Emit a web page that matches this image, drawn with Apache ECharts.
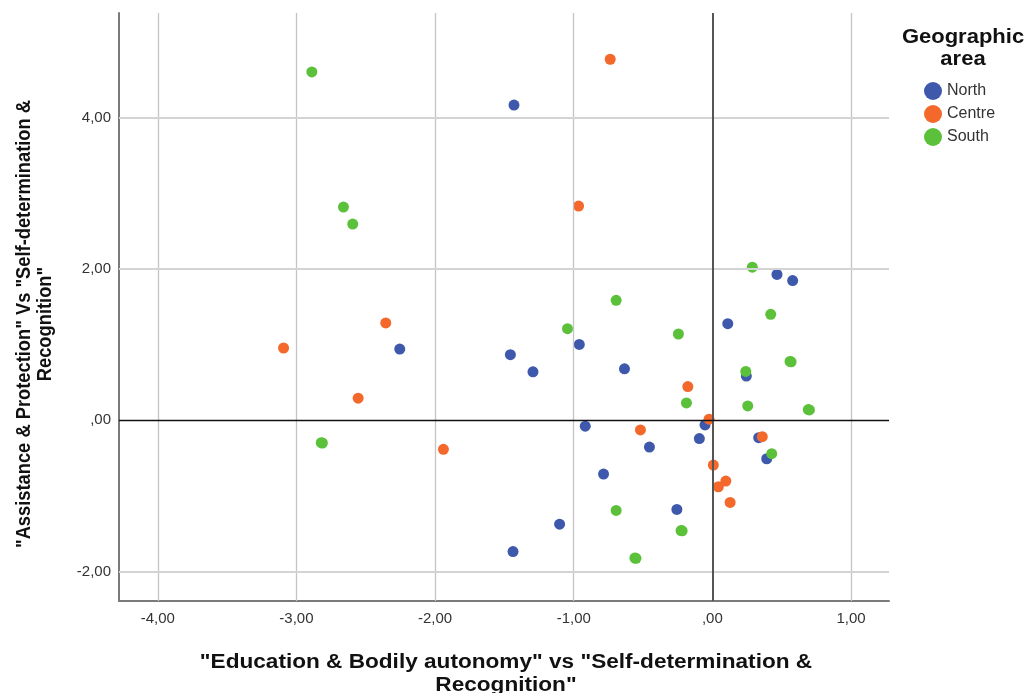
<!DOCTYPE html>
<html>
<head>
<meta charset="utf-8">
<script src="https://cdn.jsdelivr.net/npm/echarts@6/dist/echarts.min.js"></script>
<style>
html,body{margin:0;padding:0;background:#fff;}
#c{width:1027px;height:693px;}
</style>
</head>
<body>
<div id="c"></div>
<script>
// ---- data ----
const seriesNames = ['North', 'Centre', 'South'];
const north = [
  [-1.431, 4.163], [0.466, 1.925], [0.579, 1.845], [0.111, 1.275],
  [-2.255, 0.940], [-1.457, 0.865], [-0.960, 1.001], [-1.294, 0.640],
  [-0.634, 0.679], [0.245, 0.583], [-0.053, -0.062], [-0.917, -0.079],
  [-0.094, -0.243], [0.334, -0.230], [-0.454, -0.354], [0.392, -0.509],
  [-0.785, -0.711], [-0.256, -1.179], [-1.102, -1.373], [-1.438, -1.735]
];
const centre = [
  [-0.737, 4.768], [-0.965, 2.829], [-2.356, 1.285], [-3.093, 0.954],
  [-2.555, 0.291], [-1.940, -0.384], [-0.177, 0.445], [-0.024, 0.013],
  [-0.519, -0.128], [0.360, -0.217], [0.007, -0.592], [0.097, -0.804],
  [0.043, -0.879], [0.128, -1.086]
];
const south = [
  [-2.889, 4.600], [-2.661, 2.816], [-2.594, 2.591], [0.288, 2.021],
  [-0.694, 1.584], [0.421, 1.399], [-1.045, 1.209], [-0.245, 1.139],
  [0.560, 0.776], [0.568, 0.772], [0.241, 0.644], [-0.187, 0.229],
  [0.255, 0.189], [0.692, 0.140], [0.700, 0.136], [-2.821, -0.297],
  [-2.813, -0.301], [0.428, -0.442], [-0.694, -1.192], [-0.226, -1.457],
  [-0.218, -1.461], [-0.559, -1.820], [-0.551, -1.824]
];
const xTicks = [-4, -3, -2, -1, 0, 1];
const yTicks = [-2, 0, 2, 4];
const xRange = [-4.28, 1.274];
const yRange = [-2.388, 5.379];
const colors = ['#3E58AC', '#F4682C', '#5CC13A'];

function fmt(v) {
  let s = Number(v).toFixed(2).replace('.', ',');
  if (s.startsWith('0,')) s = s.slice(1);
  if (s.startsWith('-0,')) s = '-' + s.slice(2);
  return s;
}

const gridLines = [];
xTicks.forEach(v => {
  if (v !== 0) gridLines.push({xAxis: v, lineStyle: {color: '#c4c4c4', width: 1.3, type: 'solid'}});
});
yTicks.forEach(v => {
  if (v !== 0) gridLines.push({yAxis: v, lineStyle: {color: '#d4d4d4', width: 2, type: 'solid'}});
});
gridLines.push({xAxis: 0, lineStyle: {color: '#555', width: 2, type: 'solid'}});
gridLines.push({yAxis: 0, lineStyle: {color: '#111', width: 1.3, type: 'solid'}});

const font = '"Liberation Sans", Arial, sans-serif';

const chart = echarts.init(document.getElementById('c'), null, {renderer: 'canvas'});
const option = {
  animation: false,
  backgroundColor: '#fff',
  color: colors,
  grid: {left: 119, right: 138, top: 13, bottom: 92, containLabel: false},
  legend: {
    data: seriesNames,
    orient: 'vertical',
    left: 924, top: 82,
    padding: 0,
    itemWidth: 18, itemHeight: 18, itemGap: 5,
    icon: 'circle',
    textStyle: {fontFamily: font, fontSize: 16, color: '#333'}
  },
  xAxis: {
    type: 'value', min: xRange[0], max: xRange[1],
    splitLine: {show: false},
    axisLine: {show: true, onZero: false, lineStyle: {color: '#7a7a7a', width: 2}},
    axisTick: {show: false},
    axisLabel: {customValues: xTicks, formatter: fmt, margin: 10, fontFamily: font, fontSize: 15, color: '#333'}
  },
  yAxis: {
    type: 'value', min: yRange[0], max: yRange[1],
    splitLine: {show: false},
    axisLine: {show: true, onZero: false, lineStyle: {color: '#7a7a7a', width: 2}},
    axisTick: {show: false},
    axisLabel: {customValues: yTicks, formatter: fmt, margin: 8, fontFamily: font, fontSize: 15, color: '#333'}
  },
  graphic: [
    {
      type: 'text', x: 963, y: 48, scaleX: 1.1,
      style: {
        text: 'Geographic\narea',
        font: 'bold 20px ' + font, fill: '#111', align: 'center', verticalAlign: 'middle', lineHeight: 22
      }
    },
    {
      type: 'text', x: 506, y: 674, scaleX: 1.13,
      style: {
        text: '"Education & Bodily autonomy" vs "Self-determination &\nRecognition"',
        font: 'bold 20px ' + font, fill: '#111', align: 'center', verticalAlign: 'middle', lineHeight: 23
      }
    },
    {
      type: 'text', x: 35, y: 324, rotation: Math.PI / 2, scaleX: 0.915,
      style: {
        text: '"Assistance & Protection" Vs "Self-determination &\nRecognition"',
        font: 'bold 20px ' + font, fill: '#111', align: 'center', verticalAlign: 'middle', lineHeight: 21
      }
    }
  ],
  series: [
    {
      name: 'gridlines', type: 'scatter', data: [], z: 1, silent: true,
      markLine: {silent: true, symbol: 'none', label: {show: false}, animation: false, data: gridLines}
    },
    {name: 'North', type: 'scatter', data: north, symbolSize: 11, z: 3, itemStyle: {color: colors[0], opacity: 1}},
    {name: 'Centre', type: 'scatter', data: centre, symbolSize: 11, z: 3, itemStyle: {color: colors[1], opacity: 1}},
    {name: 'South', type: 'scatter', data: south, symbolSize: 11, z: 3, itemStyle: {color: colors[2], opacity: 1}}
  ]
};
chart.setOption(option);
</script>
</body>
</html>
